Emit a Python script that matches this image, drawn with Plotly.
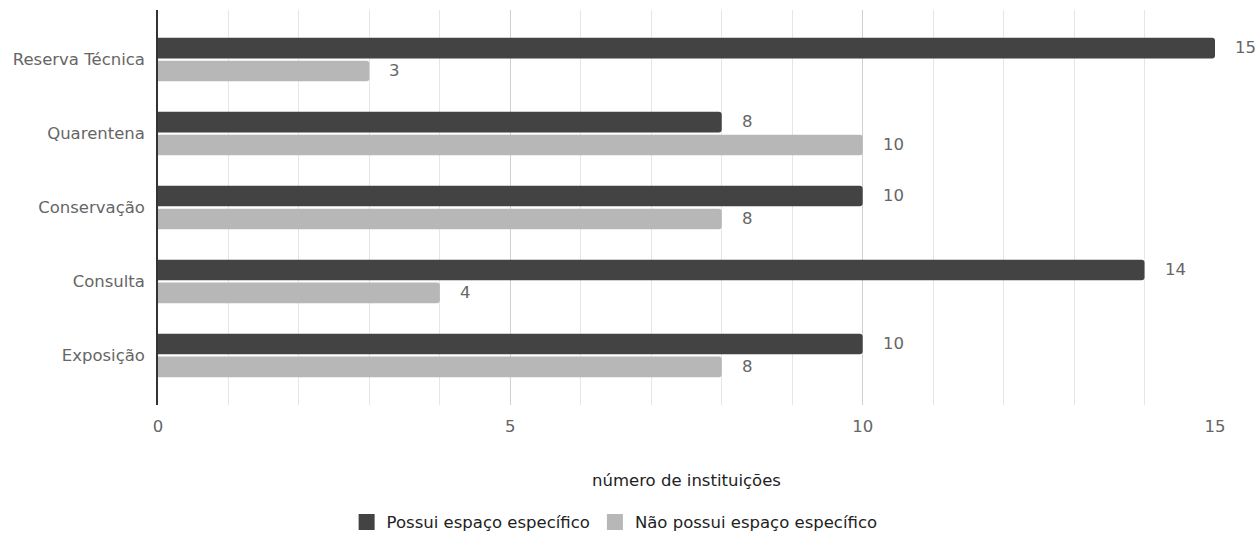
import plotly.graph_objects as go

categories = ["Reserva Técnica", "Quarentena", "Conservação", "Consulta", "Exposição"]
possui = [15, 8, 10, 14, 10]
nao_possui = [3, 10, 8, 4, 8]
series_names = ["Possui espaço específico", "Não possui espaço específico"]
colors = ["#434343", "#b7b7b7"]
x_ticks = [0, 5, 10, 15]

FONT = "DejaVu Sans"
FS = 16.5
fig = go.Figure()
for vals, name, col in zip([possui, nao_possui], series_names, colors):
    fig.add_trace(go.Bar(
        y=categories, x=vals, orientation="h", name=name,
        marker=dict(color=col, cornerradius=3, line=dict(width=0)),
        showlegend=False, hoverinfo="x+y",
    ))
    # legend proxies with larger squares
    fig.add_trace(go.Scatter(
        x=[None], y=[None], mode="markers", name=name,
        marker=dict(symbol="square", size=18, color=col),
    ))

annotations = []
for vals, ys in zip([possui, nao_possui], [12, -11]):
    for c, v in zip(categories, vals):
        annotations.append(dict(
            x=v, y=c, xref="x", yref="y", text=str(v), showarrow=False,
            xanchor="left", yanchor="middle", xshift=18, yshift=ys,
            font=dict(family=FONT, size=FS, color="#666666"),
        ))

fig.update_layout(
    width=1260, height=534,
    margin=dict(l=158, r=45, t=10, b=129),
    paper_bgcolor="white", plot_bgcolor="white",
    barmode="group", bargap=0.38, bargroupgap=0.1,
    font=dict(family=FONT, size=FS, color="#666666"),
    annotations=annotations,
    legend=dict(
        orientation="h", x=0.432, xanchor="center",
        yref="container", y=0.022, yanchor="middle",
        font=dict(family=FONT, size=FS, color="#222222"),
        itemsizing="trace",
    ),
    xaxis=dict(
        range=[0, 15], tickvals=x_ticks, ticktext=[str(t) for t in x_ticks],
        showgrid=True, gridcolor="#d0d0d0", gridwidth=1,
        minor=dict(dtick=1, showgrid=True, gridcolor="#e6e6e6", gridwidth=1),
        zeroline=False, showline=False, ticks="",
        ticklabelstandoff=9,
        tickfont=dict(family=FONT, size=FS, color="#666666"),
        title=dict(text="número de instituições", standoff=39,
                   font=dict(family=FONT, size=FS, color="#222222")),
    ),
    yaxis=dict(
        categoryorder="array", categoryarray=categories,
        range=[4.67, -0.67],
        showgrid=False, zeroline=False,
        showline=True, linecolor="#333333", linewidth=1.5,
        ticks="", ticklabelstandoff=8,
        tickfont=dict(family=FONT, size=FS, color="#666666"),
    ),
)

fig.write_html("out.html", config={"displayModeBar": False},
               post_script="document.body.style.margin='0';")
